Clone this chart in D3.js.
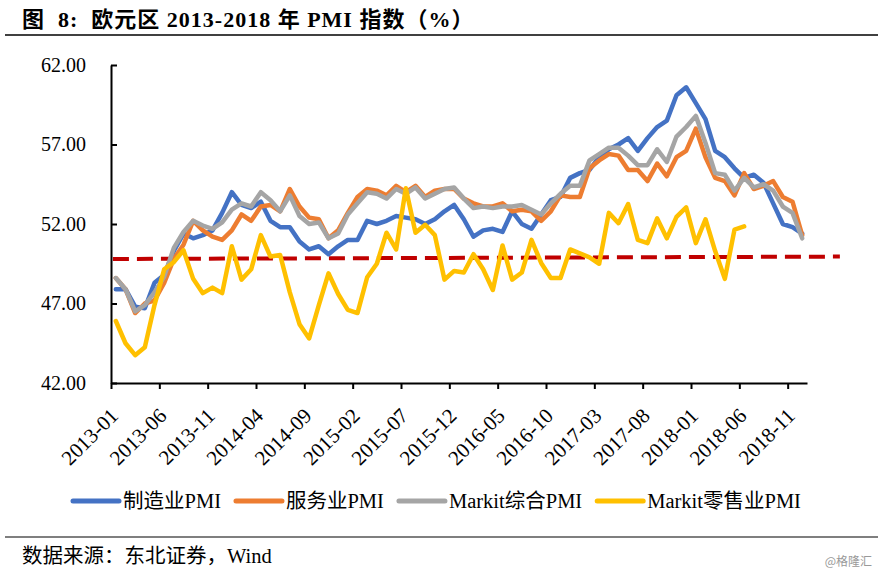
<!DOCTYPE html>
<html>
<head>
<meta charset="utf-8">
<script src="https://cdn.jsdelivr.net/npm/d3@7"></script>
<style>
  html, body { margin: 0; padding: 0; background: #fff; }
  svg { display: block; }
</style>
</head>
<body>
<svg id="chart" width="882" height="574"></svg>
<script>
// ---------------- data ----------------
const categories = [
  "2013-01","2013-02","2013-03","2013-04","2013-05","2013-06","2013-07","2013-08","2013-09","2013-10","2013-11","2013-12",
  "2014-01","2014-02","2014-03","2014-04","2014-05","2014-06","2014-07","2014-08","2014-09","2014-10","2014-11","2014-12",
  "2015-01","2015-02","2015-03","2015-04","2015-05","2015-06","2015-07","2015-08","2015-09","2015-10","2015-11","2015-12",
  "2016-01","2016-02","2016-03","2016-04","2016-05","2016-06","2016-07","2016-08","2016-09","2016-10","2016-11","2016-12",
  "2017-01","2017-02","2017-03","2017-04","2017-05","2017-06","2017-07","2017-08","2017-09","2017-10","2017-11","2017-12",
  "2018-01","2018-02","2018-03","2018-04","2018-05","2018-06","2018-07","2018-08","2018-09","2018-10","2018-11","2018-12"
];
const manufacturing = [
  47.9,47.9,46.8,46.7,48.3,48.8,50.3,51.4,51.1,51.3,51.6,52.7,
  54.0,53.2,53.0,53.4,52.2,51.8,51.8,50.9,50.4,50.6,50.1,50.6,
  51.0,51.0,52.2,52.0,52.2,52.5,52.4,52.3,52.0,52.3,52.8,53.2,
  52.3,51.2,51.6,51.7,51.5,52.8,52.0,51.7,52.6,53.5,53.7,54.9,
  55.2,55.4,56.2,56.7,57.0,57.4,56.6,57.4,58.1,58.5,60.1,60.6,
  59.6,58.6,56.6,56.2,55.5,54.9,55.1,54.6,53.3,52.0,51.8,51.4
];
const services = [
  48.6,47.9,46.4,47.0,47.2,48.3,49.8,50.7,52.2,51.6,51.2,51.0,
  51.6,52.6,52.2,53.1,53.2,52.8,54.2,53.1,52.4,52.3,51.1,51.6,
  52.7,53.7,54.2,54.1,53.8,54.4,54.0,54.4,53.7,54.1,54.2,54.2,
  53.6,53.3,53.1,53.1,53.3,52.8,52.9,52.8,52.2,52.8,53.8,53.7,
  53.7,55.5,56.0,56.4,56.3,55.4,55.4,54.7,55.8,55.0,56.2,56.6,
  58.0,56.2,54.9,54.7,53.8,55.2,54.2,54.4,54.7,53.7,53.4,51.3
];
const composite = [
  48.6,47.9,46.5,46.9,47.7,48.7,50.5,51.5,52.2,51.9,51.7,52.1,
  52.9,53.3,53.1,54.0,53.5,52.8,53.8,52.5,52.0,52.1,51.1,51.4,
  52.6,53.3,54.0,53.9,53.6,54.2,53.9,54.3,53.6,53.9,54.2,54.3,
  53.6,53.0,53.1,53.0,53.1,53.1,53.2,52.9,52.6,53.3,53.9,54.4,
  54.4,56.0,56.4,56.8,56.8,56.3,55.7,55.7,56.7,55.9,57.5,58.1,
  58.8,57.1,55.2,55.1,54.1,54.9,54.3,54.5,54.1,53.1,52.7,51.1
];
const retail = [
  45.9,44.5,43.75,44.25,46.9,49.15,49.6,50.35,48.55,47.65,48.0,47.65,
  50.6,48.5,49.15,51.3,49.95,50.05,47.7,45.7,44.8,46.9,48.9,47.6,
  46.6,46.4,48.65,49.5,51.45,50.4,54.25,51.45,51.95,51.3,48.5,49.05,
  48.95,50.1,49.15,47.85,50.65,48.5,48.95,51.0,49.55,48.6,48.6,50.4,
  50.15,49.9,49.5,52.7,52.05,53.25,51.0,50.8,52.35,51.1,52.45,53.05,
  50.8,52.3,50.3,48.55,51.65,51.85
];
const seriesNames = ["制造业PMI","服务业PMI","Markit综合PMI","Markit零售业PMI"];
const seriesColors = ["#4472C4","#ED7D31","#A5A5A5","#FFC000"];
const yTicks = [42, 47, 52, 57, 62];
const xTickIndex = [0,5,10,15,20,25,30,35,40,45,50,55,60,65,70];
const refLineValues = [49.8, 49.95];   // red dashed reference line (start, end)
const titleText = "图  8:  欧元区 2013-2018 年 PMI 指数（%）";
const sourceText = "数据来源：东北证券，Wind";
const watermark = "@格隆汇";

// ---------------- drawing ----------------
const svg = d3.select("#chart");
const serif = "'Liberation Serif','Times New Roman','Noto Sans CJK SC',serif";

const plotLeft = 111, plotRight = 807, plotTop = 65, plotBottom = 383;

const xBand = d3.scaleBand().domain(categories).range([plotLeft, plotRight]);
const xLin = d3.scaleLinear().domain([0, categories.length]).range([plotLeft, plotRight]);
const y = d3.scaleLinear().domain([42, 62]).range([plotBottom, plotTop]);
const cx = c => xBand(c) + xBand.bandwidth() / 2;

// title
svg.append("text")
  .attr("x", 22).attr("y", 27)
  .attr("font-family", serif).attr("font-weight", "bold")
  .attr("font-size", 22).attr("fill", "#000")
  .attr("letter-spacing", 1)
  .style("white-space", "pre")
  .text(titleText);
svg.append("line").attr("x1", 5).attr("x2", 878).attr("y1", 35).attr("y2", 35)
  .attr("stroke", "#000").attr("stroke-width", 1.5);

// y axis
const yAxis = d3.axisLeft(y).tickValues(yTicks).tickFormat(d3.format(".2f"))
  .tickSizeInner(-6).tickSizeOuter(0).tickPadding(25);
const gy = svg.append("g").attr("transform", `translate(${plotLeft},0)`).call(yAxis);
gy.select(".domain").attr("stroke", "#000").attr("stroke-width", 2);
gy.selectAll(".tick line").attr("stroke", "#000").attr("stroke-width", 2);
gy.selectAll(".tick text").attr("font-family", serif).attr("font-size", 20).attr("fill", "#000");

// x axis
const xAxis = d3.axisBottom(xLin).tickValues(xTickIndex).tickFormat(i => categories[i])
  .tickSizeInner(6).tickSizeOuter(0);
const gx = svg.append("g").attr("transform", `translate(0,${plotBottom})`).call(xAxis);
gx.select(".domain").attr("stroke", "#000").attr("stroke-width", 2);
gx.selectAll(".tick line").attr("stroke", "#000").attr("stroke-width", 2);
gx.selectAll(".tick text")
  .attr("font-family", serif).attr("font-size", 21).attr("fill", "#000")
  .attr("text-anchor", "end")
  .attr("dy", null).attr("y", null)
  .attr("transform", "translate(8,34) rotate(-45)");

// reference dashed line
svg.append("line")
  .attr("x1", xLin(0.2)).attr("x2", xLin(75.4))
  .attr("y1", y(refLineValues[0])).attr("y2", y(refLineValues[1]))
  .attr("stroke", "#C00000").attr("stroke-width", 4)
  .attr("stroke-dasharray", "16,8");

// series lines
const allSeries = [manufacturing, services, composite, retail];
const line = d3.line().x((d, i) => cx(categories[i])).y(d => y(d));
allSeries.forEach((vals, k) => {
  svg.append("path").datum(vals)
    .attr("d", line)
    .attr("fill", "none")
    .attr("stroke", seriesColors[k])
    .attr("stroke-width", 4.5)
    .attr("stroke-linejoin", "round")
    .attr("stroke-linecap", "round");
});

// legend
const legend = svg.append("g");
let lx = 73;
const ly = 501;
seriesNames.forEach((name, k) => {
  legend.append("line")
    .attr("x1", lx).attr("x2", lx + 46).attr("y1", ly).attr("y2", ly)
    .attr("stroke", seriesColors[k]).attr("stroke-width", 5).attr("stroke-linecap", "round");
  const t = legend.append("text")
    .attr("x", lx + 50).attr("y", ly + 7)
    .attr("font-family", serif).attr("font-size", 20.5).attr("fill", "#000")
    .text(name);
  const w = t.node().getComputedTextLength();
  lx = lx + 50 + w + 15;
});

// bottom rule + source
svg.append("line").attr("x1", 5).attr("x2", 878).attr("y1", 537).attr("y2", 537)
  .attr("stroke", "#000").attr("stroke-width", 1.2);
svg.append("text").attr("x", 22).attr("y", 563)
  .attr("font-family", serif).attr("font-size", 20.5).attr("fill", "#000")
  .text(sourceText);
svg.append("text").attr("x", 872).attr("y", 566)
  .attr("text-anchor", "end")
  .attr("font-family", "'Noto Sans CJK SC',sans-serif").attr("font-size", 12).attr("fill", "#999")
  .text(watermark);
</script>
</body>
</html>
